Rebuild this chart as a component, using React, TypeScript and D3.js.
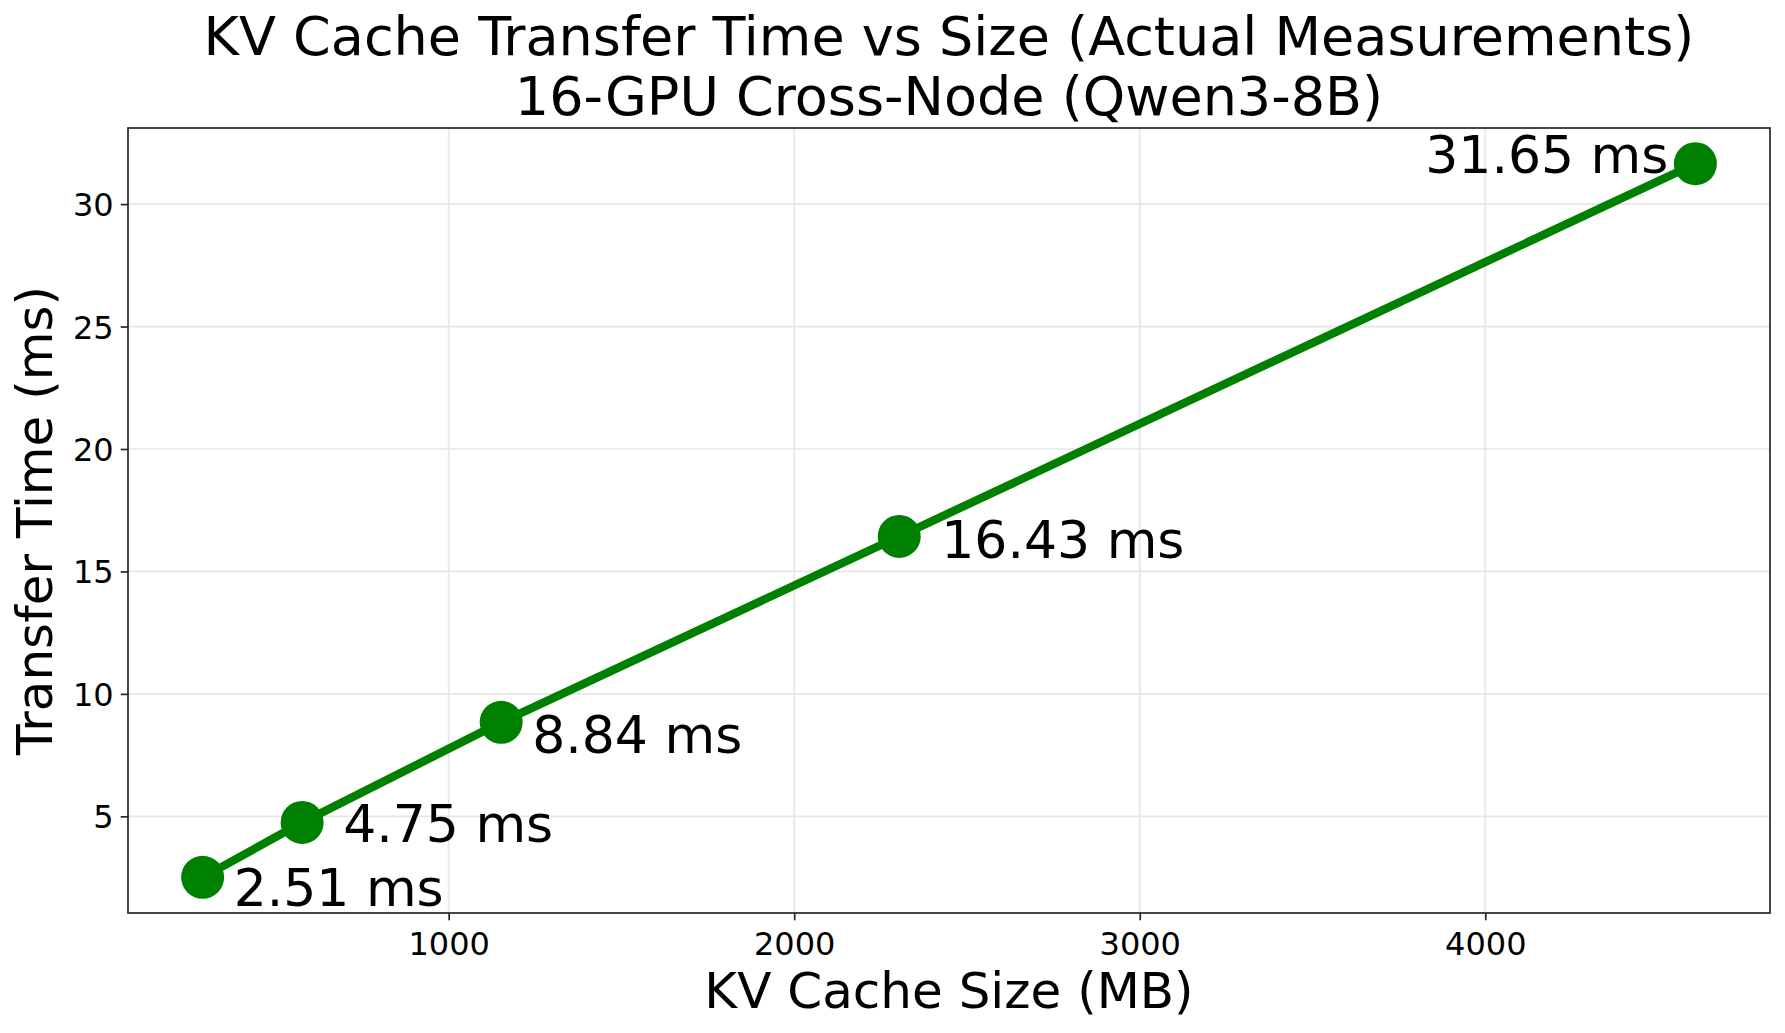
import React, { useEffect, useRef } from "react";
import * as d3 from "d3";

// KV cache size (MB) and measured transfer time (ms)
const sizesMB = [288, 576, 1152, 2304, 4608];
const transferMs = [2.51, 4.75, 8.84, 16.43, 31.65];
const pointLabels = ["2.51 ms", "4.75 ms", "8.84 ms", "16.43 ms", "31.65 ms"];

const xTicks = [1000, 2000, 3000, 4000];
const yTicks = [5, 10, 15, 20, 25, 30];

const titleLines = [
  "KV Cache Transfer Time vs Size (Actual Measurements)",
  "16-GPU Cross-Node (Qwen3-8B)",
];
const xLabel = "KV Cache Size (MB)";
const yLabel = "Transfer Time (ms)";

// label placement relative to each marker (px)
const labelOffsets: [number, number, string][] = [
  [31, 29, "start"],
  [41, 20, "start"],
  [31, 30.5, "start"],
  [42, 21.5, "start"],
  [-27, 9.5, "end"],
];

const W = 1785;
const H = 1033;
const FONT = "'DejaVu Sans', sans-serif";

export default function App() {
  const svgRef = useRef<SVGSVGElement | null>(null);

  useEffect(() => {
    if (!svgRef.current) return;
    const svg = d3.select(svgRef.current);
    svg.selectAll("*").remove();

    const margin = { top: 128, right: W - 1770, bottom: H - 913, left: 128 };
    const width = W - margin.left - margin.right;
    const height = H - margin.top - margin.bottom;

    // matplotlib-style 5% padding
    const pad = (ext: [number, number]) => {
      const d = (ext[1] - ext[0]) * 0.05;
      return [ext[0] - d, ext[1] + d];
    };
    const x = d3
      .scaleLinear()
      .domain(pad(d3.extent(sizesMB) as [number, number]))
      .range([0, width]);
    const y = d3
      .scaleLinear()
      .domain(pad(d3.extent(transferMs) as [number, number]))
      .range([height, 0]);

    svg.append("rect").attr("width", W).attr("height", H).attr("fill", "#fff");

    const g = svg
      .append("g")
      .attr("transform", `translate(${margin.left},${margin.top})`);

    // grid
    g.append("g")
      .selectAll("line")
      .data(xTicks)
      .enter()
      .append("line")
      .attr("x1", (d) => x(d))
      .attr("x2", (d) => x(d))
      .attr("y1", 0)
      .attr("y2", height)
      .attr("stroke", "#e6e6e6")
      .attr("stroke-width", 1.7);
    g.append("g")
      .selectAll("line")
      .data(yTicks)
      .enter()
      .append("line")
      .attr("x1", 0)
      .attr("x2", width)
      .attr("y1", (d) => y(d))
      .attr("y2", (d) => y(d))
      .attr("stroke", "#e6e6e6")
      .attr("stroke-width", 1.7);

    // axes
    const xAxis = g
      .append("g")
      .attr("transform", `translate(0,${height})`)
      .call(
        d3
          .axisBottom(x)
          .tickValues(xTicks)
          .tickSize(7.3)
          .tickPadding(7)
          .tickFormat(d3.format("d"))
      );
    xAxis.select(".domain").remove();
    xAxis.selectAll("line").attr("stroke", "#262626").attr("stroke-width", 1.7);
    xAxis
      .selectAll("text")
      .attr("fill", "#000")
      .attr("dy", null)
      .attr("y", 42)
      .style("font-size", "32px")
      .style("font-family", FONT);

    const yAxis = g.append("g").call(
      d3
        .axisLeft(y)
        .tickValues(yTicks)
        .tickSize(7.3)
        .tickPadding(7)
        .tickFormat(d3.format("d"))
    );
    yAxis.select(".domain").remove();
    yAxis.selectAll("line").attr("stroke", "#262626").attr("stroke-width", 1.7);
    yAxis
      .selectAll("text")
      .attr("fill", "#000")
      .attr("dy", "0.36em")
      .style("font-size", "32px")
      .style("font-family", FONT);

    // frame
    g.append("rect")
      .attr("width", width)
      .attr("height", height)
      .attr("fill", "none")
      .attr("stroke", "#262626")
      .attr("stroke-width", 1.7);

    const points = sizesMB.map((s, i) => ({ x: s, y: transferMs[i], label: pointLabels[i] }));

    const line = d3
      .line<{ x: number; y: number }>()
      .x((d) => x(d.x))
      .y((d) => y(d.y));

    g.append("path")
      .datum(points)
      .attr("fill", "none")
      .attr("stroke", "#008000")
      .attr("stroke-width", 8.3)
      .attr("stroke-linejoin", "round")
      .attr("d", line);

    g.selectAll(".dot")
      .data(points)
      .enter()
      .append("circle")
      .attr("class", "dot")
      .attr("cx", (d) => x(d.x))
      .attr("cy", (d) => y(d.y))
      .attr("r", 21.5)
      .attr("fill", "#008000");

    g.selectAll(".pt-label")
      .data(points)
      .enter()
      .append("text")
      .attr("class", "pt-label")
      .attr("x", (d, i) => x(d.x) + labelOffsets[i][0])
      .attr("y", (d, i) => y(d.y) + labelOffsets[i][1])
      .attr("text-anchor", (d, i) => labelOffsets[i][2])
      .style("font-size", "52px")
      .style("font-family", FONT)
      .attr("fill", "#000")
      .text((d) => d.label);

    // title
    svg
      .append("text")
      .attr("x", margin.left + width / 2)
      .attr("text-anchor", "middle")
      .style("font-size", "54px")
      .style("font-family", FONT)
      .attr("fill", "#000")
      .selectAll("tspan")
      .data(titleLines)
      .enter()
      .append("tspan")
      .attr("x", margin.left + width / 2)
      .attr("y", (d, i) => 55 + i * 60)
      .text((d) => d);

    // axis labels
    svg
      .append("text")
      .attr("x", margin.left + width / 2)
      .attr("y", 1008)
      .attr("text-anchor", "middle")
      .style("font-size", "50px")
      .style("font-family", FONT)
      .attr("fill", "#000")
      .text(xLabel);

    svg
      .append("text")
      .attr("transform", `translate(52,${margin.top + height / 2}) rotate(-90)`)
      .attr("text-anchor", "middle")
      .style("font-size", "50px")
      .style("font-family", FONT)
      .attr("fill", "#000")
      .text(yLabel);
  }, []);

  return (
    <svg
      ref={svgRef}
      width={W}
      height={H}
      style={{ position: "absolute", left: 0, top: 0, display: "block" }}
    ></svg>
  );
}
